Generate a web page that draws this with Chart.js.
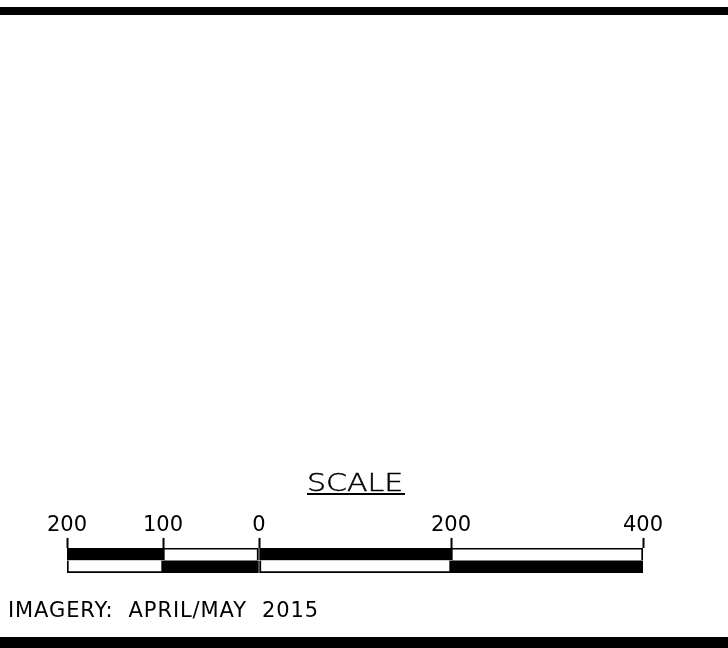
<!DOCTYPE html>
<html>
<head>
<meta charset="utf-8">
<script src="https://cdn.jsdelivr.net/npm/chart.js@4/dist/chart.umd.min.js"></script>
<style>
  html, body { margin: 0; padding: 0; background: #fff; }
  #wrap { position: relative; width: 728px; height: 648px; overflow: hidden; background: #fff; }
  #c { position: absolute; left: 0; top: 0; }
  .band { position: absolute; left: 0; width: 728px; background: #000; }
  .txt { position: absolute; white-space: pre; color: #000; font-family: "DejaVu Sans", sans-serif; line-height: 1; }
</style>
</head>
<body>
<div id="wrap">
  <div class="band" style="top:7px;height:8px;"></div>
  <canvas id="c" width="728" height="648"></canvas>
  <div class="txt" id="scaleTitle" style="left:307px;top:470px;font-size:25px;transform:scaleX(1.2);transform-origin:0 0;font-family:'DejaVu Sans ExtraLight','DejaVu Sans',sans-serif;font-weight:200;-webkit-text-stroke:0.5px #000;">SCALE</div>
  <div style="position:absolute;left:307px;top:493px;width:98px;height:2px;background:#000;"></div>
  <div class="txt" style="left:8px;top:600px;font-size:21px;letter-spacing:0.9px;">IMAGERY:  APRIL/MAY  2015</div>
  <div class="band" style="top:637px;height:11px;"></div>
</div>
<script>
// ---- data ----
const boundaries = [-200, -100, 0, 200, 400];          // distance marks (units)
const tickLabels = ['200', '100', '0', '200', '400'];   // printed labels
const rows = ['upper', 'lower'];
const upperColors = ['#000000', '#ffffff', '#000000', '#ffffff'];
const lowerColors = ['#ffffff', '#000000', '#ffffff', '#000000'];

const datasets = [];
for (let i = 0; i < boundaries.length - 1; i++) {
  const seg = [boundaries[i], boundaries[i + 1]];
  datasets.push({
    label: 'seg' + i,
    data: [seg, seg],
    backgroundColor: [upperColors[i], lowerColors[i]],
    borderColor: '#000000',
    borderSkipped: false,
    borderWidth: (ctx) => ctx.dataIndex === 0
      ? { top: 2, left: 2, right: 2, bottom: 0 }
      : { top: 0, left: 2, right: 2, bottom: 2 },
    barPercentage: 1,
    categoryPercentage: 1,
    grouped: false
  });
}

new Chart(document.getElementById('c'), {
  type: 'bar',
  data: { labels: rows, datasets },
  options: {
    indexAxis: 'y',
    responsive: false,
    animation: false,
    devicePixelRatio: 1,
    layout: { padding: { left: 67, right: 85, top: 502.8, bottom: 75 } },
    plugins: { legend: { display: false }, tooltip: { enabled: false }, title: { display: false } },
    scales: {
      x: {
        type: 'linear',
        position: 'top',
        min: boundaries[0],
        max: boundaries[boundaries.length - 1],
        afterBuildTicks: (axis) => { axis.ticks = boundaries.map(v => ({ value: v })); },
        afterFit: (axis) => { axis.height += 10; },
        ticks: {
          autoSkip: false,
          maxRotation: 0,
          padding: 0,
          color: '#000',
          font: { family: 'DejaVu Sans', size: 21 },
          callback: (v) => { const i = boundaries.indexOf(v); return i >= 0 ? tickLabels[i] : ''; }
        },
        grid: { drawOnChartArea: false, tickLength: 10, tickWidth: 2, tickColor: '#000', color: '#000' },
        border: { display: false }
      },
      y: { type: 'category', display: false }
    }
  }
});
</script>
</body>
</html>
